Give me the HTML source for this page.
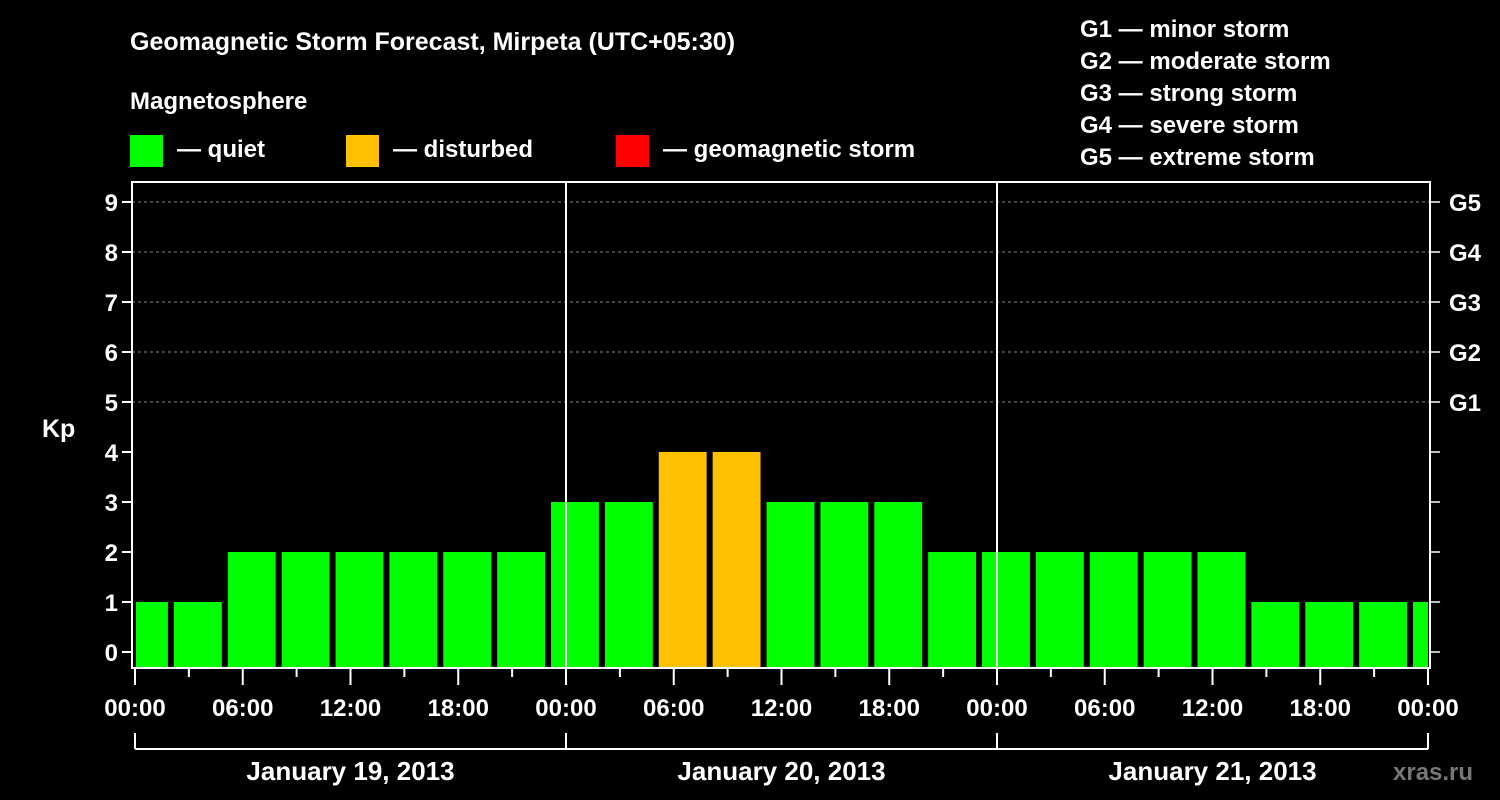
<!DOCTYPE html>
<html><head><meta charset="utf-8"><style>
body{margin:0;background:#000;width:1500px;height:800px;overflow:hidden}
svg{display:block;font-family:"Liberation Sans",sans-serif;font-weight:bold;fill:#fff}
</style></head><body>
<svg id="c" width="1500" height="800">
<text x="130" y="50" font-size="25">Geomagnetic Storm Forecast, Mirpeta (UTC+05:30)</text>
<text x="130" y="109" font-size="24">Magnetosphere</text>
<g><rect x="130" y="135" width="33" height="32" fill="#00ff00"/><text x="177" y="157" font-size="24">— quiet</text></g>
<g><rect x="346" y="135" width="33" height="32" fill="#ffc000"/><text x="393" y="157" font-size="24">— disturbed</text></g>
<g><rect x="616" y="135" width="33" height="32" fill="#ff0000"/><text x="663" y="157" font-size="24">— geomagnetic storm</text></g>
<g font-size="24">
<text x="1080" y="37">G1 — minor storm</text><text x="1080" y="69">G2 — moderate storm</text><text x="1080" y="101">G3 — strong storm</text><text x="1080" y="133">G4 — severe storm</text><text x="1080" y="165">G5 — extreme storm</text></g>
<text x="42" y="437" font-size="25">Kp</text>
<text x="1393" y="780" font-size="24" fill="#777" style="fill:#777">xras.ru</text>
<g id="plot"></g>
</svg>
<script>
const kpValues=[1,1,2,2,2,2,2,2,3,3,4,4,3,3,3,2,2,2,2,2,2,1,1,1,1];
const yTicks=[0,1,2,3,4,5,6,7,8,9];
const gLabels=["G1","G2","G3","G4","G5"];
const gLevels=[5,6,7,8,9];
const xLabels=["00:00","06:00","12:00","18:00","00:00","06:00","12:00","18:00","00:00","06:00","12:00","18:00","00:00"];
const dayLabels=["January 19, 2013","January 20, 2013","January 21, 2013"];
const NS="http://www.w3.org/2000/svg";
const P=document.getElementById('plot');
const x=h=>135+h*(1293/72);
const y=v=>652-v*50;
const L=132,R=1430,T=182,B=668;
function el(t,a){const e=document.createElementNS(NS,t);for(const k in a)e.setAttribute(k,a[k]);P.appendChild(e);return e;}
// grid
yTicks.forEach(v=>{
 if(v>=5){const g=el('line',{x1:L,x2:R,y1:y(v),y2:y(v),stroke:'#888','stroke-dasharray':'3,3','stroke-width':1});
 
 }
 const t1=el('line',{x1:L-10,x2:L,y1:y(v),y2:y(v),stroke:'#fff','stroke-width':2});
 
 
 const t2=el('line',{x1:R,x2:R+10,y1:y(v),y2:y(v),stroke:'#fff','stroke-width':1.5});
 
 
 const tx=el('text',{x:L-14,y:y(v)+9,'font-size':24,'text-anchor':'end'});tx.textContent=v;
 
 
});
gLabels.forEach((g,i)=>{const t=el('text',{x:1449,y:y(gLevels[i])+9,'font-size':24});t.textContent=g;
 
 });
// bars
kpValues.forEach((v,k)=>{
 let x0=Math.max(x(3*k-1)+3,136),x1=Math.min(x(3*k+2)-3,1428);
 const col=v>=5?'#ff0000':v>=4?'#ffc000':'#00ff00';
 const b=el('rect',{x:x0,y:y(v),width:x1-x0,height:667-y(v),fill:col});
 
 
});
// day separators
[24,48].forEach(h=>{const l=el('line',{x1:x(h),x2:x(h),y1:T,y2:B,stroke:'#fff','stroke-width':2});
 
 });
const fr=el('rect',{x:L,y:T,width:R-L,height:B-T,fill:'none',stroke:'#fff','stroke-width':2});


// x ticks
for(let h=0;h<=72;h+=3){const maj=h%6==0;
 const t=el('line',{x1:x(h),x2:x(h),y1:B,y2:B+(maj?17:9),stroke:'#fff','stroke-width':2});
 
 }
xLabels.forEach((s,i)=>{const t=el('text',{x:x(i*6),y:716,'font-size':24,'text-anchor':'middle'});t.textContent=s;
 
 });
// day bracket
const br=el('line',{x1:x(0),x2:x(72),y1:749,y2:749,stroke:'#fff','stroke-width':2});


[0,24,48,72].forEach(h=>{const l=el('line',{x1:x(h),x2:x(h),y1:733,y2:749,stroke:'#fff','stroke-width':2});
 
 });
dayLabels.forEach((d,i)=>{const t=el('text',{x:x(i*24+12),y:780,'font-size':26,'text-anchor':'middle'});t.textContent=d;
 
 });
</script>
</body></html>
